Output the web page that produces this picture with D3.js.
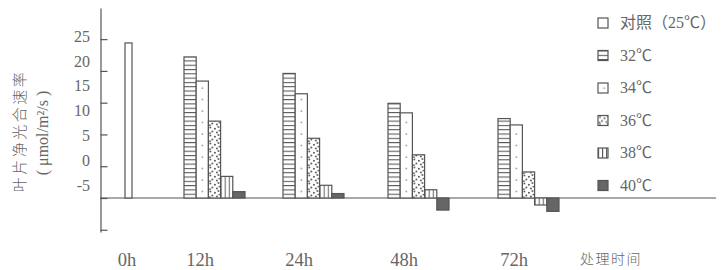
<html>
  <head>
    <style>
      body {
        margin: 0;
        background: #fff;
      }
      svg {
        width: 721px;
        height: 270px;
        display: block;
      }
      .num {
        font-family: "Liberation Serif", "Noto Sans CJK SC", serif;
        fill: #555;
      }
      .cjk {
        font-family: "Noto Sans CJK SC", sans-serif;
        font-weight: 300;
        fill: #666;
      }
    </style>
  </head>
  <body>
    <script src="https://cdn.jsdelivr.net/npm/d3@7"></script>
    <script>
      // data
      const times = ["0h", "12h", "24h", "48h", "72h"];
      const seriesNames = ["对照（25℃）", "32℃", "34℃", "36℃", "38℃", "40℃"];
      const control = [24.4]; // 0h only
      const t32 = [22.2, 19.6, 14.9, 12.5];
      const t34 = [18.4, 16.4, 13.4, 11.5];
      const t36 = [12.1, 9.4, 6.8, 4.1];
      const t38 = [3.4, 2.0, 1.3, -1.1];
      const t40 = [1.0, 0.7, -1.9, -2.1];
      const yTicks = [-5, 0, 5, 10, 15, 20, 25];

      const treated = [t32, t34, t36, t38, t40];
      const fills = ["#fff", "url(#p32)", "url(#p34)", "url(#p36)", "url(#p38)", "#666"];

      const svg = d3.select("body").append("svg");
      const defs = svg.append("defs");

      // patterns
      const p32 = defs.append("pattern").attr("id", "p32")
        .attr("patternUnits", "userSpaceOnUse").attr("width", 12).attr("height", 4.3);
      p32.append("rect").attr("width", 12).attr("height", 4.3).attr("fill", "#fff");
      p32.append("line").attr("x1", 0).attr("x2", 12).attr("y1", 0.5).attr("y2", 0.5)
        .attr("stroke", "#555").attr("stroke-width", 1.1);

      const p34 = defs.append("pattern").attr("id", "p34")
        .attr("patternUnits", "userSpaceOnUse").attr("width", 12.2).attr("height", 11.5);
      p34.append("rect").attr("width", 12.2).attr("height", 11.5).attr("fill", "#fff");
      p34.append("circle").attr("cx", 6.1).attr("cy", 5).attr("r", 0.8).attr("fill", "#777");

      const p36 = defs.append("pattern").attr("id", "p36")
        .attr("patternUnits", "userSpaceOnUse").attr("width", 12.2).attr("height", 8);
      p36.append("rect").attr("width", 12.2).attr("height", 8).attr("fill", "#fff");
      [[2, 1.5], [6.5, 2.8], [10, 1], [4, 5.5], [8.5, 6.5], [1.5, 7.2], [11, 4.6]].forEach(
        (p) => p36.append("circle").attr("cx", p[0]).attr("cy", p[1]).attr("r", 0.95).attr("fill", "#555")
      );

      const p38 = defs.append("pattern").attr("id", "p38")
        .attr("patternUnits", "userSpaceOnUse").attr("width", 4.07).attr("height", 10);
      p38.append("rect").attr("width", 4.07).attr("height", 10).attr("fill", "#fff");
      p38.append("line").attr("x1", 0.5).attr("x2", 0.5).attr("y1", 0).attr("y2", 10)
        .attr("stroke", "#555").attr("stroke-width", 1);

      // scales
      const y = d3.scaleLinear().domain([-5.35, 29.9]).range([232, 8]);
      const yLabel = d3.scaleLinear().domain([-5, 25]).range([187, 38]);
      const xGroup = d3.scaleOrdinal().domain(times).range([125, 184, 283, 388, 498]);
      const xInner = d3.scaleBand().domain(seriesNames.slice(1)).range([0, 61]);

      // y axis
      const yAxis = svg.append("g").attr("transform", "translate(100.5,0)")
        .call(d3.axisRight(y).tickValues(yTicks).tickSize(7).tickSizeOuter(0).tickFormat(""));
      yAxis.selectAll("path, line").attr("stroke", "#555").attr("stroke-width", 1.2);

      svg.append("g").selectAll("text").data(yTicks).join("text")
        .attr("class", "num")
        .attr("x", 90).attr("y", (d) => yLabel(d))
        .attr("text-anchor", "end").attr("dominant-baseline", "middle")
        .attr("font-size", 16).style("fill", "#666").text((d) => d);

      // baseline
      svg.append("line").attr("x1", 100).attr("x2", 716)
        .attr("y1", y(0)).attr("y2", y(0))
        .attr("stroke", "#555").attr("stroke-width", 1.2);

      // bars
      const bars = [{ t: "0h", s: 0, v: control[0], x: xGroup("0h"), w: 7 }];
      times.slice(1).forEach((t, ti) => {
        treated.forEach((arr, si) => {
          bars.push({ t, s: si + 1, v: arr[ti], x: xGroup(t) + xInner(seriesNames[si + 1]), w: xInner.bandwidth() });
        });
      });

      const barG = svg.append("g").selectAll("g").data(bars).join("g")
        .attr("transform", (d) => `translate(${d.x},${y(0)})`);
      barG.append("rect")
        .attr("x", 0)
        .attr("y", (d) => Math.min(y(d.v), y(0)) - y(0))
        .attr("width", (d) => d.w)
        .attr("height", (d) => Math.abs(y(d.v) - y(0)))
        .attr("fill", (d) => fills[d.s])
        .attr("stroke", "#555").attr("stroke-width", 1.2);

      // x labels
      svg.append("g").selectAll("text").data(times).join("text")
        .attr("class", "num")
        .attr("x", (d) => xGroup(d) + (d === "0h" ? 2 : 16))
        .attr("y", 266).attr("text-anchor", "middle")
        .attr("font-size", 18.5).style("fill", "#666").text((d) => d);

      svg.append("text").attr("class", "cjk")
        .attr("x", 580).attr("y", 264).attr("font-size", 14)
        .attr("letter-spacing", 1.5).text("处理时间");

      // y title
      svg.append("text").attr("class", "cjk")
        .attr("transform", "translate(25,131) rotate(-90)")
        .attr("text-anchor", "middle").attr("font-size", 15)
        .attr("letter-spacing", 2.5).text("叶片净光合速率");
      svg.append("text").attr("class", "num")
        .attr("transform", "translate(48,133) rotate(-90)")
        .attr("text-anchor", "middle").attr("font-size", 16)
        .style("fill", "#666")
        .text("( μmol/m²/s )");

      // legend
      const legend = svg.append("g").selectAll("g").data(seriesNames).join("g")
        .attr("transform", (d, i) => `translate(598,${18 + i * 32.5})`);
      legend.append("rect")
        .attr("width", 10).attr("height", 10)
        .attr("fill", (d, i) => fills[i])
        .attr("stroke", "#555").attr("stroke-width", 1.2);
      legend.append("text").attr("class", "num")
        .attr("x", 22).attr("y", 10).attr("font-size", 16)
        .style("fill", "#666")
        .text((d) => d);
    </script>
  </body>
</html>
